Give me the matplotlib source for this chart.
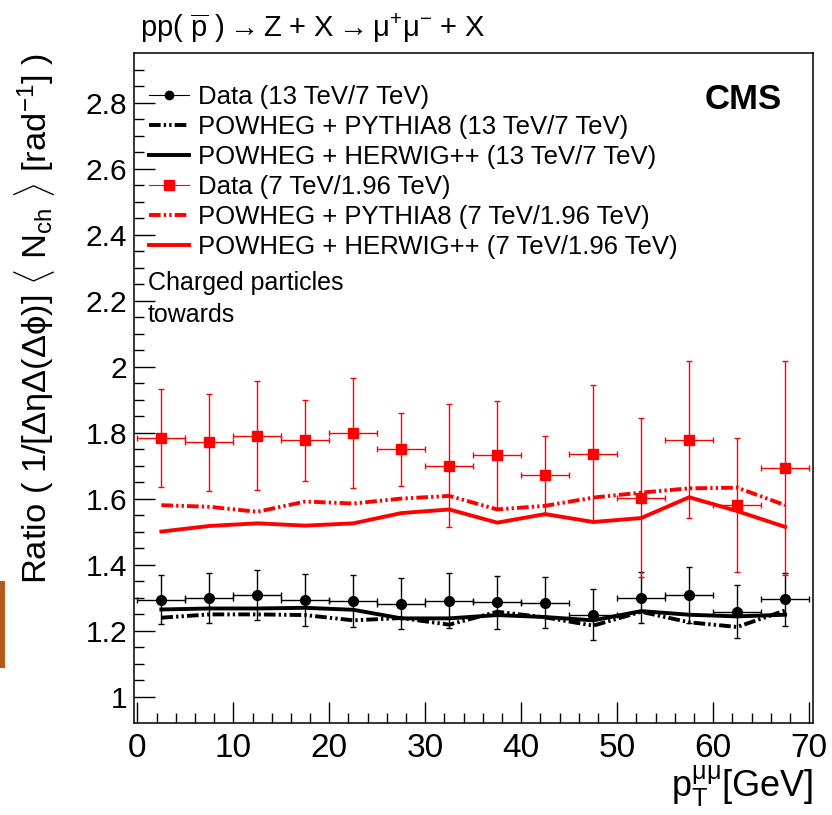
import numpy as np
import matplotlib
matplotlib.use('Agg')
from matplotlib import pyplot as plt
from matplotlib.lines import Line2D
from matplotlib.patches import Rectangle

plt.rcParams['font.family'] = ['Liberation Sans', 'DejaVu Sans']
plt.rcParams['mathtext.fontset'] = 'custom'
plt.rcParams['mathtext.rm'] = 'Liberation Sans'
plt.rcParams['mathtext.it'] = 'Liberation Sans:italic'
plt.rcParams['mathtext.bf'] = 'Liberation Sans:bold'

# pT bins (centres, half width 2.5 GeV)
pt_bins = [2.5, 7.5, 12.5, 17.5, 22.5, 27.5, 32.5, 37.5, 42.5, 47.5, 52.5, 57.5, 62.5, 67.5]
bin_half_width = 2.5

# 13 TeV / 7 TeV
data_13_7 = [1.294, 1.299, 1.308, 1.293, 1.289, 1.281, 1.291, 1.286, 1.284, 1.248, 1.300, 1.308, 1.257, 1.295]
err_13_7 = [0.074, 0.075, 0.077, 0.078, 0.078, 0.077, 0.082, 0.080, 0.077, 0.077, 0.076, 0.085, 0.080, 0.080]
pythia_13_7 = [1.239, 1.249, 1.249, 1.247, 1.231, 1.238, 1.218, 1.257, 1.240, 1.215, 1.257, 1.225, 1.211, 1.261]
herwig_13_7 = [1.264, 1.267, 1.267, 1.269, 1.263, 1.237, 1.237, 1.247, 1.241, 1.231, 1.259, 1.248, 1.243, 1.248]

# 7 TeV / 1.96 TeV
data_7_196 = [1.784, 1.771, 1.791, 1.776, 1.799, 1.749, 1.700, 1.732, 1.670, 1.736, 1.603, 1.778, 1.581, 1.692]
err_7_196 = [0.148, 0.147, 0.164, 0.124, 0.167, 0.111, 0.187, 0.163, 0.121, 0.208, 0.241, 0.238, 0.202, 0.325]
pythia_7_196 = [1.580, 1.575, 1.560, 1.591, 1.585, 1.600, 1.608, 1.567, 1.578, 1.603, 1.618, 1.631, 1.633, 1.580]
herwig_7_196 = [1.500, 1.517, 1.525, 1.518, 1.525, 1.556, 1.567, 1.527, 1.553, 1.529, 1.541, 1.604, 1.562, 1.514]

legend_labels = [
    'Data (13 TeV/7 TeV)',
    'POWHEG + PYTHIA8 (13 TeV/7 TeV)',
    'POWHEG + HERWIG++ (13 TeV/7 TeV)',
    'Data (7 TeV/1.96 TeV)',
    'POWHEG + PYTHIA8 (7 TeV/1.96 TeV)',
    'POWHEG + HERWIG++ (7 TeV/1.96 TeV)',
]

RED = '#ff0000'
dashdotdot = (0, (3, 0.8, 0.6, 0.8, 0.6, 0.8))

fig = plt.figure(figsize=(8.32, 8.15), dpi=100)
ax = fig.add_axes([134/832, 1-723/815, 679/832, 670/815])

# model curves
ax.plot(pt_bins, pythia_13_7, color='black', linewidth=2.8, linestyle=dashdotdot)
ax.plot(pt_bins, herwig_13_7, color='black', linewidth=2.8)
ax.plot(pt_bins, pythia_7_196, color=RED, linewidth=2.8, linestyle=dashdotdot)
ax.plot(pt_bins, herwig_7_196, color=RED, linewidth=2.8)

# data
ax.errorbar(pt_bins, data_13_7, xerr=bin_half_width, yerr=err_13_7,
            fmt='o', color='black', markersize=7, elinewidth=1.0,
            capsize=2.5, capthick=1.0)
ax.errorbar(pt_bins, data_7_196, xerr=bin_half_width, yerr=err_7_196,
            fmt='s', color=RED, markersize=7, elinewidth=1.0,
            capsize=2.5, capthick=1.0)

ax.set_xlim(-0.35, 70.4)
ax.set_ylim(0.92, 2.95)
ax.set_xticks(np.arange(0, 71, 10))
ax.set_xticks(np.arange(0, 71, 2), minor=True)
ax.set_yticks(np.arange(1.0, 2.81, 0.2))
ax.set_yticks(np.arange(1.0, 2.95, 0.05), minor=True)
ax.set_yticklabels(['1', '1.2', '1.4', '1.6', '1.8', '2', '2.2', '2.4', '2.6', '2.8'])

ax.tick_params(axis='both', which='both', direction='in', top=False, right=False, width=1.0)
ax.tick_params(axis='both', which='major', length=15)
ax.tick_params(axis='both', which='minor', length=7.5)
ax.tick_params(axis='x', which='major', labelsize=24, pad=7)
ax.tick_params(axis='y', which='major', labelsize=21.5, pad=5)
for spine in ax.spines.values():
    spine.set_linewidth(1.1)

ax.set_ylabel(r'Ratio ( 1/[ΔηΔ(Δϕ)] $\langle$ N$_{\mathrm{ch}}$ $\rangle$ [rad$^{\mathrm{-1}}$] )',
              fontsize=24.8, loc='top')
ax.yaxis.set_label_coords(-0.113, 1.0)
ax.set_xlabel(r'p$_{\mathrm{T}}^{\mathrm{\mu\mu}}$[GeV]', fontsize=26, loc='right')
ax.xaxis.set_label_coords(1.0, -0.06)

handles = [
    Line2D([], [], color='black', linewidth=0.8, marker='o', markersize=6),
    Line2D([], [], color='black', linewidth=2.8, linestyle=dashdotdot),
    Line2D([], [], color='black', linewidth=2.8),
    Line2D([], [], color=RED, linewidth=0.8, marker='s', markersize=6.5),
    Line2D([], [], color=RED, linewidth=2.8, linestyle=dashdotdot),
    Line2D([], [], color=RED, linewidth=2.8),
]
ax.legend(handles, legend_labels, loc='upper left', bbox_to_anchor=(0.022, 0.952),
          frameon=False, fontsize=18.5, handlelength=1.55, handletextpad=0.35,
          labelspacing=0.23, borderpad=0, borderaxespad=0)

ax.text(0.954, 0.930, 'CMS', transform=ax.transAxes, ha='right', va='center',
        fontsize=25, fontweight='bold')
ax.text(0.0206, 0.657, 'Charged particles', transform=ax.transAxes, ha='left',
        va='center', fontsize=18)
ax.text(0.0206, 0.609, 'towards', transform=ax.transAxes, ha='left',
        va='center', fontsize=18)

fig.text(140/832, 1-28/815,
         r'pp( $\overline{\mathrm{p}}$ )$\rightarrow$Z + X$\rightarrow$μ$^{+}$μ$^{-}$ + X',
         ha='left', va='center', fontsize=21)

# orange marker bar at the left edge
fig.patches.append(Rectangle((0, 1-668/815), 5/832, 87/815, transform=fig.transFigure,
                             facecolor='#b5581e', edgecolor='none'))

plt.savefig('out.png', dpi=100)
